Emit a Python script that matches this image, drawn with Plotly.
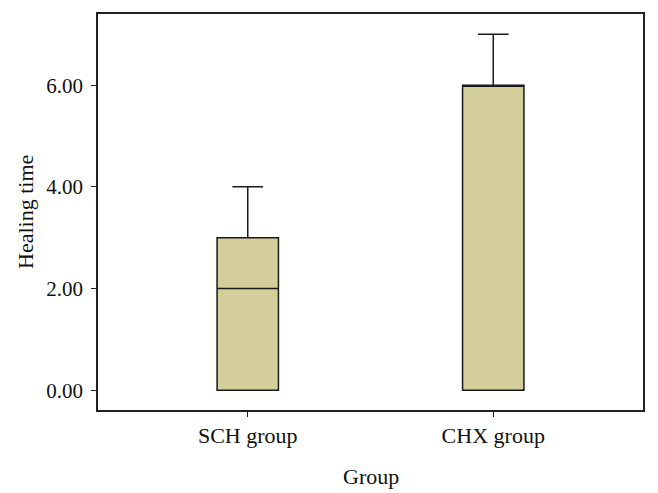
import plotly.graph_objects as go

groups = ["SCH group", "CHX group"]
lower_fence = [0, 0]
q1 = [0, 0]
median = [2, 6]
q3 = [3, 6]
upper_fence = [4, 7]
y_ticks = [0, 2, 4, 6]
y_tick_labels = ["0.00", "2.00", "4.00", "6.00"]

FONT = "Liberation Serif"

fig = go.Figure()
fig.add_trace(go.Box(
    x=groups,
    q1=q1, median=median, q3=q3,
    lowerfence=lower_fence, upperfence=upper_fence,
    fillcolor="#D4CE9A",
    line=dict(color="#1a1a1a", width=1.5),
    width=0.25,
    whiskerwidth=0.5,
    boxpoints=False,
    showlegend=False,
    hoverinfo="skip",
))

fig.update_layout(
    width=650, height=485,
    margin=dict(l=90, r=15, t=6, b=83, autoexpand=False),
    paper_bgcolor="white", plot_bgcolor="white",
    font=dict(family=FONT, size=21, color="#111"),
    xaxis=dict(
        range=[-0.61, 1.61],
        automargin=False,
        showline=True, linecolor="#222", linewidth=1.5, mirror=True,
        ticks="outside", ticklen=5, tickcolor="#222", tickwidth=1,
        tickfont=dict(family=FONT, size=22),
        showgrid=False, zeroline=False,
    ),
    yaxis=dict(
        range=[-0.39, 7.40],
        automargin=False,
        tickvals=y_ticks, ticktext=y_tick_labels,
        showline=True, linecolor="#222", linewidth=1.5, mirror=True,
        ticks="outside", ticklen=5, tickcolor="#222", tickwidth=1,
        tickfont=dict(family=FONT, size=21),
        ticklabelstandoff=4,
        showgrid=False, zeroline=False,
    ),
    annotations=[
        dict(text="Group", xref="paper", yref="paper",
             x=0.5, y=-0.167, xanchor="center", yanchor="middle",
             showarrow=False, font=dict(family=FONT, size=22, color="#111")),
        dict(text="Healing time", xref="paper", yref="paper",
             x=-0.134, y=0.5, xanchor="center", yanchor="middle", textangle=-90,
             showarrow=False, font=dict(family=FONT, size=22, color="#111")),
    ],
)

fig.write_html("out.html")
